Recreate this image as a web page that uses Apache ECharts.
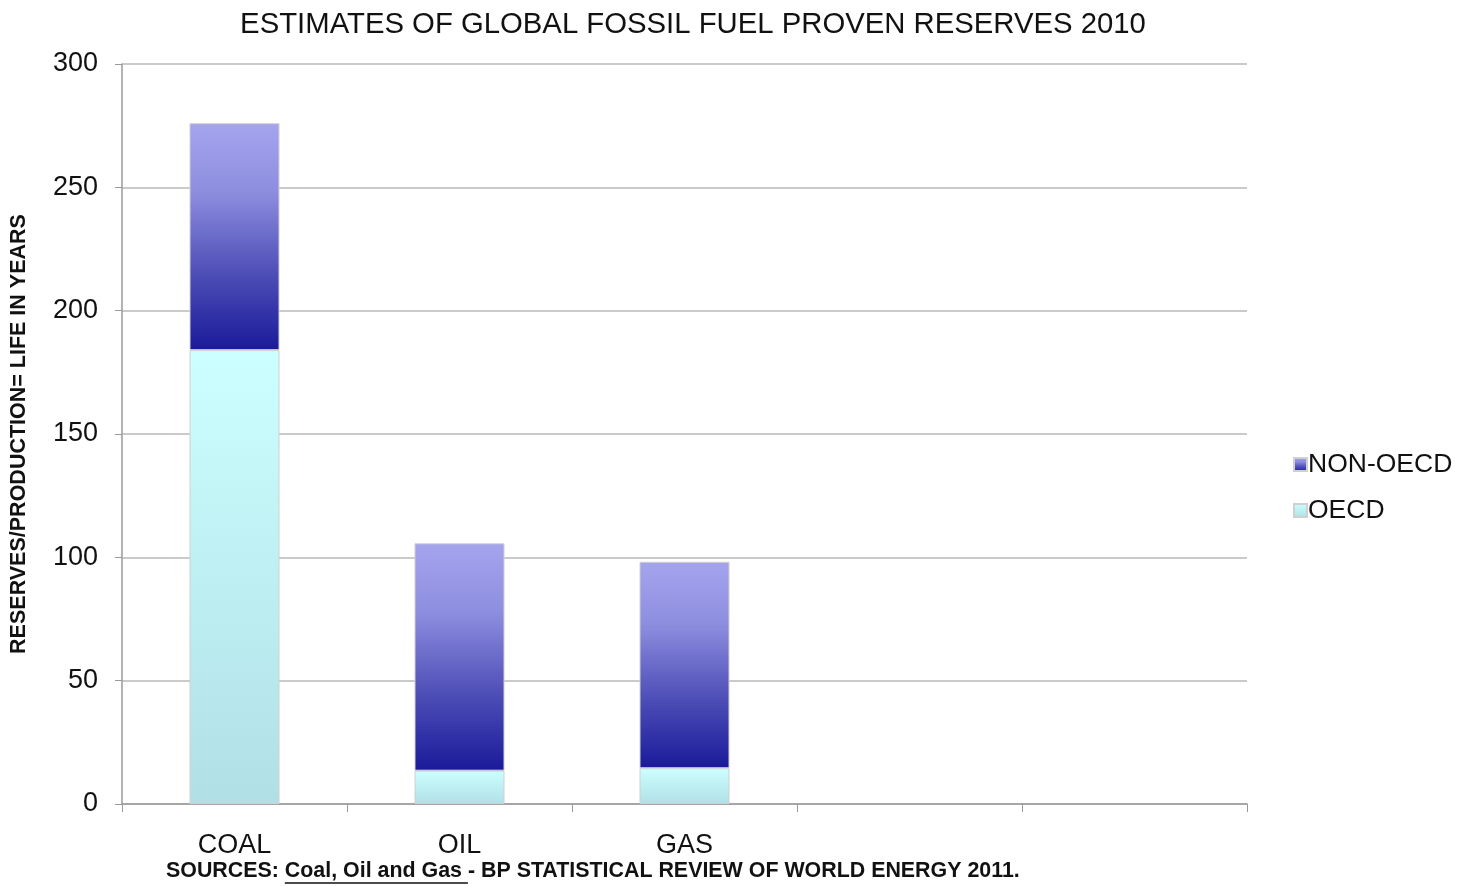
<!DOCTYPE html>
<html>
<head>
<meta charset="utf-8">
<script src="https://cdn.jsdelivr.net/npm/echarts@6/dist/echarts.min.js"></script>
<style>html,body{margin:0;padding:0;background:#fff;}#c{width:1462px;height:886px;}</style>
</head>
<body>
<div id="c"></div>
<script>
const categories = ['COAL', 'OIL', 'GAS', '', ''];
const oecd = [184, 13.5, 14.5, null, null];
const nonOecd = [92, 92.2, 83.7, null, null];
const yTicks = [0, 50, 100, 150, 200, 250, 300];

const chart = echarts.init(document.getElementById('c'));
const font = '"Liberation Sans", Arial, sans-serif';

const srcFont = 'bold 21.4px "Liberation Sans", Arial, sans-serif';
const srcA = 'SOURCES: ';
const srcB = 'Coal, Oil and Gas ';
const srcC = '- BP STATISTICAL REVIEW OF WORLD ENERGY 2011.';
const mctx = document.createElement('canvas').getContext('2d');
mctx.font = srcFont;
const wA = mctx.measureText(srcA).width;
const wB = mctx.measureText(srcB).width;
const srcX = 166;

chart.setOption({
  backgroundColor: '#fff',
  animation: false,
  title: {
    text: 'ESTIMATES OF GLOBAL FOSSIL FUEL PROVEN RESERVES 2010',
    left: 688, top: 5, textAlign: 'center',
    textStyle: { fontFamily: font, fontSize: 29.3, fontWeight: 'normal', color: '#111' }
  },
  legend: {
    orient: 'vertical', left: 1288, top: 446, itemGap: 19,
    itemWidth: 13, itemHeight: 13, icon: 'rect',
    data: ['NON-OECD', 'OECD'],
    textStyle: { fontFamily: font, fontSize: 26.5, color: '#111', padding: [0, 0, 0, -4] }
  },
  grid: { left: 122, right: 215, top: 64, bottom: 82 },
  xAxis: {
    type: 'category', data: categories,
    axisLine: { lineStyle: { color: '#9a9a9a', width: 1.5 } },
    axisTick: { show: true, length: 8, lineStyle: { color: '#9a9a9a' } },
    axisLabel: { fontFamily: font, fontSize: 27, color: '#111', margin: 28 }
  },
  yAxis: {
    type: 'value', min: yTicks[0], max: yTicks[yTicks.length - 1], interval: 50,
    name: 'RESERVES/PRODUCTION= LIFE IN YEARS', nameLocation: 'middle', nameGap: 92,
    nameTextStyle: { fontFamily: font, fontSize: 21.5, fontWeight: 'bold', color: '#111' },
    axisLine: { show: true, lineStyle: { color: '#9a9a9a', width: 1.5 } },
    axisTick: { show: true, length: 7, lineStyle: { color: '#9a9a9a' } },
    axisLabel: { fontFamily: font, fontSize: 27, color: '#111', margin: 24 },
    splitLine: { lineStyle: { color: '#b8b8b8', width: 1.5 } }
  },
  series: [
    {
      name: 'OECD', type: 'bar', stack: 'a', data: oecd, barWidth: '40%',
      itemStyle: {
        color: new echarts.graphic.LinearGradient(0, 0, 0, 1, [
          { offset: 0, color: '#ccffff' }, { offset: 1, color: '#b0e0e6' }
        ]),
        borderColor: '#d0d0d0', borderWidth: 1
      }
    },
    {
      name: 'NON-OECD', type: 'bar', stack: 'a', data: nonOecd, barWidth: '40%',
      itemStyle: {
        color: new echarts.graphic.LinearGradient(0, 0, 0, 1, [
          { offset: 0, color: '#a4a4ee' }, { offset: 0.3, color: '#8e8ee0' },
          { offset: 0.65, color: '#5050b8' }, { offset: 1, color: '#1a1a9a' }
        ]),
        borderColor: '#d0d0d0', borderWidth: 1
      }
    }
  ],
  graphic: [
    {
      type: 'text', left: srcX, top: 861,
      style: { text: srcA + srcB + srcC, font: srcFont, fill: '#111' }
    },
    {
      type: 'line', shape: { x1: srcX + wA, y1: 883, x2: srcX + wA + wB, y2: 883 },
      style: { stroke: '#111', lineWidth: 1.5 }
    }
  ]
});
</script>
</body>
</html>
